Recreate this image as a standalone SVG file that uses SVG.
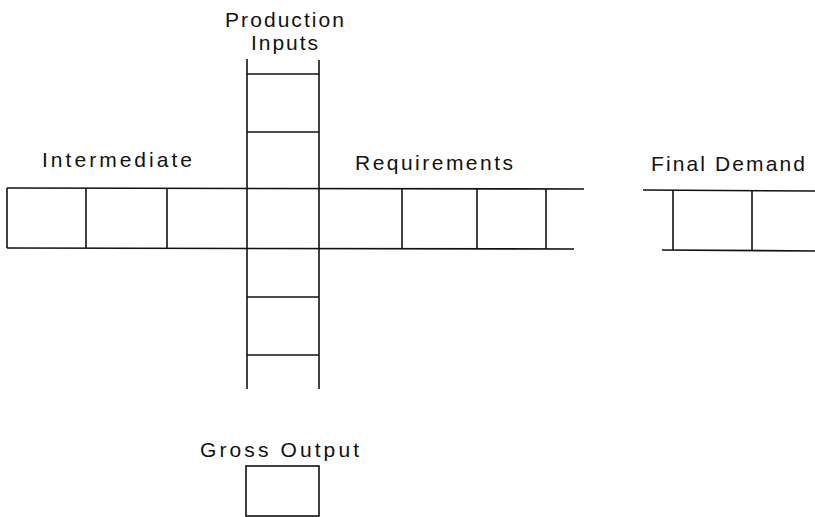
<svg xmlns="http://www.w3.org/2000/svg" width="815" height="517" viewBox="0 0 815 517">
  <style>
    .ln { stroke: #111; stroke-width: 1.6; fill: none; stroke-linecap: butt; }
    .lbl { font-family: "Liberation Sans", "DejaVu Sans", sans-serif; font-size: 21px; fill: #111; }
  </style>
  <rect width="815" height="517" fill="#fff"/>

  <!-- Labels -->
  <g id="labels">
    <text class="lbl" x="225" y="27" textLength="119" lengthAdjust="spacing">Production</text>
    <text class="lbl" x="251" y="50" textLength="67" lengthAdjust="spacing">Inputs</text>
    <text class="lbl" x="42" y="167" textLength="150" lengthAdjust="spacing">Intermediate</text>
    <text class="lbl" x="355" y="170" textLength="158" lengthAdjust="spacing">Requirements</text>
    <text class="lbl" x="651" y="171" textLength="154" lengthAdjust="spacing">Final Demand</text>
    <text class="lbl" x="200" y="457" textLength="159" lengthAdjust="spacing">Gross Output</text>
  </g>

  <!-- Horizontal row of intermediate requirements -->
  <g id="row-intermediate" class="ln">
    <line x1="7" y1="188" x2="584" y2="189"/>
    <line x1="7" y1="248" x2="574" y2="249"/>
    <line x1="7" y1="188" x2="7" y2="248"/>
    <line x1="86" y1="188" x2="86" y2="248"/>
    <line x1="167" y1="188" x2="167" y2="248"/>
    <line x1="402" y1="188" x2="402" y2="249"/>
    <line x1="477" y1="188" x2="477" y2="249"/>
    <line x1="546" y1="189" x2="546" y2="249"/>
  </g>

  <!-- Vertical column of production inputs -->
  <g id="column-inputs" class="ln">
    <line x1="247" y1="59" x2="247" y2="389"/>
    <line x1="319" y1="60" x2="319" y2="389"/>
    <line x1="247" y1="74" x2="319" y2="74"/>
    <line x1="247" y1="132" x2="319" y2="132"/>
    <line x1="247" y1="297" x2="319" y2="297"/>
    <line x1="247" y1="355" x2="319" y2="355"/>
  </g>

  <!-- Final demand strip -->
  <g id="final-demand" class="ln">
    <line x1="643" y1="190" x2="815" y2="191"/>
    <line x1="662" y1="250" x2="815" y2="251"/>
    <line x1="673" y1="190" x2="673" y2="250"/>
    <line x1="752" y1="191" x2="752" y2="251"/>
  </g>

  <!-- Gross output cell -->
  <g id="gross-output" class="ln">
    <rect x="246" y="466" width="73" height="50"/>
  </g>
</svg>
